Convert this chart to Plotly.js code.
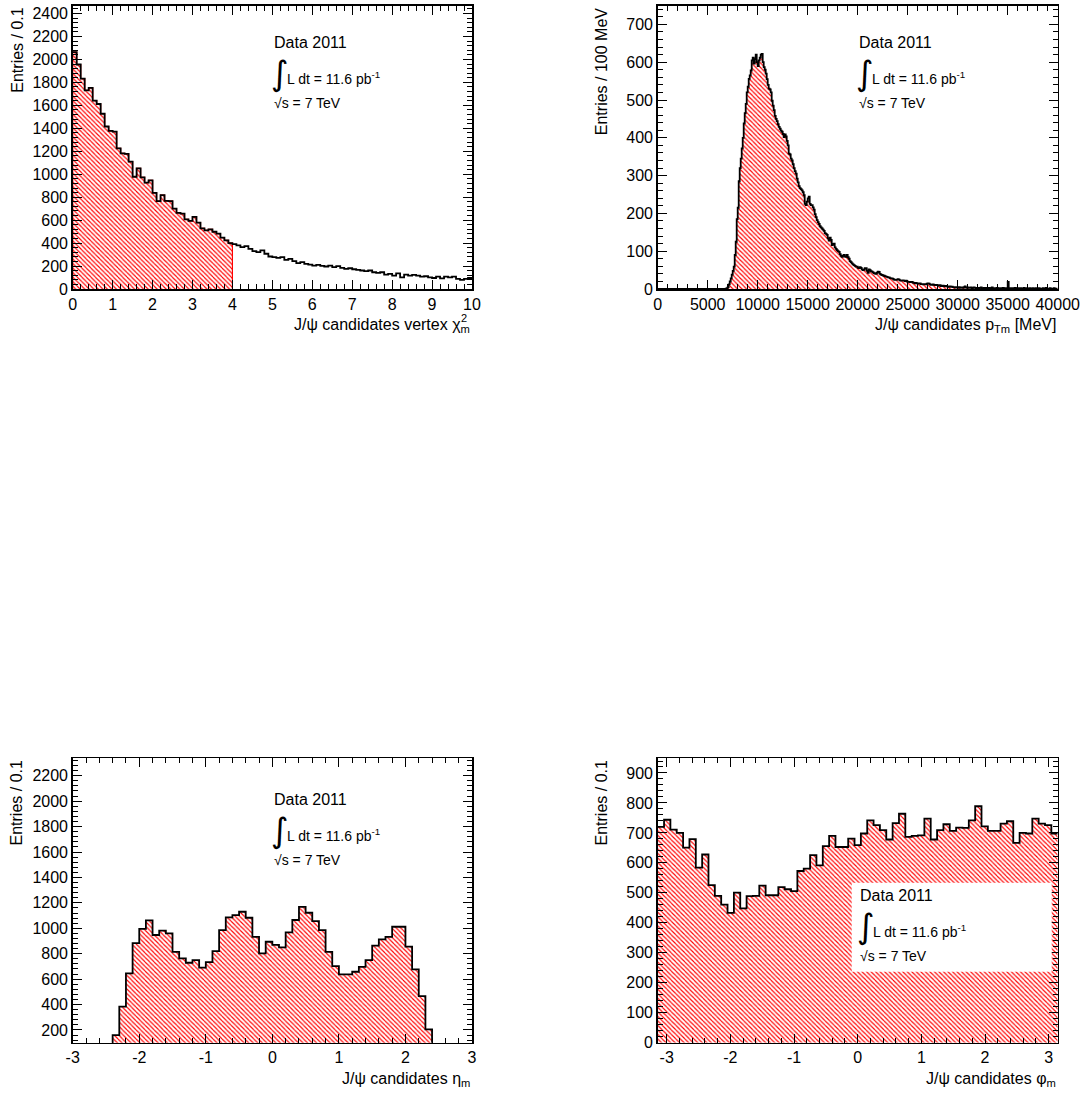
<!DOCTYPE html>
<html>
<head>
<meta charset="utf-8">
<script src="https://cdn.plot.ly/plotly-3.0.1.min.js"></script>
<style>html,body{margin:0;padding:0;background:#fff}#plot{width:1088px;height:1098px}</style>
</head>
<body>
<div id="plot"></div>
<script>
// ---------------- data ----------------
// vertex chi2: 100 bins of 0.1 from 0 to 10 (hatched up to 4)
const chiBinStart = 0, chiBinWidth = 0.1, chiCut = 4;
const chiVals = [2064,1956,1833,1731,1752,1641,1612,1527,1416,1378,
1372,1226,1182,1177,1109,978,1051,972,926,946,
838,765,818,768,765,701,663,657,607,593,
628,578,528,511,520,499,482,447,423,400,
391,380,365,374,350,330,321,336,307,283,
277,272,277,254,263,242,225,234,219,213,
204,210,201,196,204,190,199,184,175,181,
172,166,161,155,161,146,140,146,126,131,
117,137,102,126,117,123,117,108,111,102,
96,108,93,108,102,108,88,79,88,96];

// pT: 400 bins of 100 MeV from 0 to 40000
const ptBinStart = 0, ptBinWidth = 100;
const ptVals = [
0,0,0,0,0,0,0,0,0,0, 0,0,0,0,0,0,0,0,0,0, 0,0,0,0,0,0,0,0,0,0, 0,0,0,0,0,0,0,0,0,0,
0,0,0,0,0,0,0,0,0,0, 0,0,0,0,0,0,0,0,0,0, 0,0,0,0,0,0,0,0,1,2,
5,12,20,28,38,48,59,90,125,185,
215,285,320,345,372,400,438,465,490,520,
535,556,565,578,605,612,596,608,620,600,
590,605,612,620,622,600,587,580,570,555,
540,530,528,520,498,485,473,458,450,444,
436,429,424,419,416,410,402,409,404,392,
380,358,356,345,340,330,320,312,305,292,
282,272,267,264,261,256,248,225,222,231,
240,244,225,222,222,216,210,198,190,182,
177,172,166,163,160,157,154,148,146,143,
134,128,136,130,116,119,120,110,106,103,
100,98,92,88,85,88,90,86,85,90,
84,80,74,71,68,65,63,61,59,59,
56,55,58,56,52,50,51,55,55,48,
43,52,50,47,46,44,42,41,40,43,
46,45,40,38,37,36,35,34,33,32,
31,31,29,28,28,27,25,24,24,25,
26,25,23,22,22,23,22,21,22,20,
19,19,18,19,19,17,16,15,16,15,
15,14,15,13,13,12,13,13,12,14,
15,14,12,11,11,12,11,10,11,10,
10,9,10,8,8,9,8,7,8,7,
6,6,7,6,6,5,5,4,5,4,
4,5,3,4,4,3,5,7,4,3,
4,3,3,4,2,3,4,3,2,3,
3,2,3,4,2,2,3,2,3,2,
2,3,2,2,4,2,2,1,2,3,
2,2,1,2,2,3,2,1,2,2,
19,2,1,2,2,1,2,3,1,2,
1,2,1,2,1,1,3,1,1,2,
1,1,2,1,1,2,1,1,2,1,
1,2,1,1,1,2,1,1,3,1,
1,1,2,1,1,1,2,1,1,1];

// eta: 60 bins of 0.1 from -3 to 3
const etaBinStart = -3, etaBinWidth = 0.1;
const etaVals = [0,0,0,0,0,0,160,383,645,884,
996,1062,947,981,960,815,763,729,750,690,
734,821,986,1086,1104,1130,1083,933,803,894,
870,850,968,1065,1169,1122,1057,986,815,703,
638,638,658,697,750,863,913,933,1012,1012,
855,677,467,205,0,0,0,0,0,0];

// phi: 63 bins from -pi to pi
const phiBinStart = -Math.PI, phiNBins = 63;
const phiVals = [720,744,711,700,651,679,584,628,526,490,
461,433,501,448,489,490,524,492,492,519,
512,506,573,581,626,592,656,690,653,653,
681,659,698,742,726,709,678,733,764,687,
690,692,748,678,709,729,707,718,717,742,
789,722,707,707,731,739,667,700,698,748,
731,726,698];

// tick labels for the signed axes (plain hyphen minus as in the reference)
const signedTickVals = [-3, -2, -1, 0, 1, 2, 3];
const signedTickText = ["-3", "-2", "-1", "0", "1", "2", "3"];

// axis titles and labels
const yTitles = ["Entries / 0.1", "Entries / 100 MeV", "Entries / 0.1", "Entries / 0.1"];
const xTitles = ["J/ψ candidates vertex χ<sub>m</sub>", "J/ψ candidates p<sub>Tm</sub> [MeV]",
                 "J/ψ candidates η<sub>m</sub>", "J/ψ candidates φ<sub>m</sub>"];
const labelData = "Data 2011", labelLumi = "L dt = 11.6 pb<sup>-1</sup>", labelSqrt = "√s = 7 TeV";

// ---------------- layout helpers ----------------
const W = 1088, H = 1098;
const FONT = "Liberation Sans, Arial, Helvetica, sans-serif";
const px = v => v / W, py = v => 1 - v / H;

function stepXY(x0, w, vals) {
  const x = [], y = [];
  for (let i = 0; i <= vals.length; i++) {
    x.push(x0 + i * w);
    y.push(vals[Math.min(i, vals.length - 1)]);
  }
  return {x, y};
}

const hatch = {shape: '\\', fgcolor: '#ff0000', bgcolor: 'rgba(255,255,255,0)', size: 3.2, solidity: 0.35};

const traces = [];
// panel 1
{
  const nCut = Math.round((chiCut - chiBinStart) / chiBinWidth);
  const f = stepXY(chiBinStart, chiBinWidth, chiVals.slice(0, nCut));
  f.x.unshift(chiBinStart); f.y.unshift(0);
  f.x.push(chiCut); f.y.push(0);
  traces.push({type: 'scatter', mode: 'lines', x: f.x, y: f.y, xaxis: 'x', yaxis: 'y',
    line: {shape: 'hv', color: '#ff0000', width: 1.2}, fill: 'tozeroy', fillcolor: 'rgba(0,0,0,0)', fillpattern: hatch, hoverinfo: 'skip'});
  const s = stepXY(chiBinStart, chiBinWidth, chiVals);
  traces.push({type: 'scatter', mode: 'lines', x: s.x, y: s.y, xaxis: 'x', yaxis: 'y',
    line: {shape: 'hv', color: '#000', width: 1.8}, hoverinfo: 'skip'});
}
function filledPanel(x0, w, vals, xa, ya, lw) {
  const s = stepXY(x0, w, vals);
  traces.push({type: 'scatter', mode: 'lines', x: s.x, y: s.y, xaxis: xa, yaxis: ya,
    line: {shape: 'hv', color: '#000', width: lw}, fill: 'tozeroy', fillcolor: 'rgba(0,0,0,0)', fillpattern: hatch, hoverinfo: 'skip'});
}
filledPanel(ptBinStart, ptBinWidth, ptVals, 'x2', 'y2', 1.8);
filledPanel(etaBinStart, etaBinWidth, etaVals, 'x3', 'y3', 1.8);
filledPanel(phiBinStart, 2 * Math.PI / phiNBins, phiVals, 'x4', 'y4', 1.8);

// panel geometry (pixels)
const boxes = [
  {l: 72.7, r: 472, t: 5.5, b: 289},
  {l: 657.7, r: 1057.7, t: 5.5, b: 289},
  {l: 72.7, r: 472, t: 758.3, b: 1042.7},
  {l: 657.7, r: 1057.7, t: 758.3, b: 1042.7}
];
const xRanges = [[0, 10], [0, 40000], [-3, 3], [-Math.PI, Math.PI]];
const yRanges = [[0, 2470], [0, 750], [100, 2337], [0, 949]];
const xDt = [[1, 0.2], [5000, 1000], [1, 0.2], [1, 0.2]];
const yDt = [[200, 40], [100, 20], [200, 40], [100, 20]];

function axis(dom, range, dt, anchor) {
  return {domain: dom, range: range, anchor: anchor, showline: true, linecolor: '#000', linewidth: 1.5,
    mirror: 'allticks', ticks: 'inside', ticklen: 9, tickwidth: 1, tickcolor: '#000',
    tick0: 0, dtick: dt[0], tickformat: 'd', showgrid: false, zeroline: false,
    minor: {ticks: 'inside', ticklen: 5, tickwidth: 1, tickcolor: '#000', dtick: dt[1], tick0: 0, showgrid: false},
    tickfont: {family: FONT, size: 16, color: '#000'}, fixedrange: true};
}

const layout = {width: W, height: H, margin: {l: 0, r: 0, t: 0, b: 0}, paper_bgcolor: '#fff', plot_bgcolor: '#fff',
  showlegend: false, font: {family: FONT, color: '#000'}, annotations: [], shapes: []};

boxes.forEach((b, i) => {
  const sfx = i === 0 ? '' : String(i + 1);
  const xa = axis([px(b.l), px(b.r)], xRanges[i], xDt[i], 'y' + sfx);
  const ya = axis([py(b.b), py(b.t)], yRanges[i], yDt[i], 'x' + sfx);
  if (i >= 2) {
    xa.tickmode = 'array'; xa.tickvals = signedTickVals; xa.ticktext = signedTickText;
  }
  layout['xaxis' + sfx] = xa;
  layout['yaxis' + sfx] = ya;
  // y title
  layout.annotations.push({xref: 'paper', yref: 'paper', x: px(b.l - 56), y: py(b.t), xanchor: 'center', yanchor: 'top',
    text: yTitles[i], textangle: -90, showarrow: false, font: {family: FONT, size: 16, color: '#000'}});
  // x title
  layout.annotations.push({xref: 'paper', yref: 'paper', x: px(b.r), y: py(b.b + 25), xanchor: 'right', yanchor: 'top',
    text: xTitles[i], showarrow: false, font: {family: FONT, size: 16, color: '#000'}});
});
// chi2 superscript (stacked above the subscript m)
layout.annotations.push({xref: 'paper', yref: 'paper', x: px(469), y: py(326), xanchor: 'right', yanchor: 'bottom',
  text: '2', showarrow: false, font: {family: FONT, size: 11, color: '#000'}});

// ATLAS-style labels
const labelPos = [[271.5, 32], [857, 32], [272, 789], [857.5, 885]];
// white box behind label in phi panel
layout.shapes.push({type: 'rect', xref: 'paper', yref: 'paper', x0: px(851.7), x1: px(1051.7), y0: py(971.7), y1: py(882.7),
  fillcolor: '#fff', line: {width: 0}, layer: 'above'});
labelPos.forEach(([lx, ty]) => {
  layout.annotations.push({xref: 'paper', yref: 'paper', x: px(lx), y: py(ty), xanchor: 'left', yanchor: 'top',
    text: labelData, showarrow: false, font: {family: FONT, size: 16, color: '#000'}});
  layout.annotations.push({xref: 'paper', yref: 'paper', x: px(lx - 3), y: py(ty + 19), xanchor: 'left', yanchor: 'top',
    text: '∫', showarrow: false, font: {family: 'DejaVu Sans', size: 34, color: '#000'}});
  layout.annotations.push({xref: 'paper', yref: 'paper', x: px(lx + 13), y: py(ty + 35), xanchor: 'left', yanchor: 'top',
    text: labelLumi, showarrow: false, font: {family: FONT, size: 14, color: '#000'}});
  layout.annotations.push({xref: 'paper', yref: 'paper', x: px(lx), y: py(ty + 61), xanchor: 'left', yanchor: 'top',
    text: labelSqrt, showarrow: false, font: {family: FONT, size: 14, color: '#000'}});
});

Plotly.newPlot('plot', traces, layout, {staticPlot: true, displayModeBar: false});
</script>
</body>
</html>
